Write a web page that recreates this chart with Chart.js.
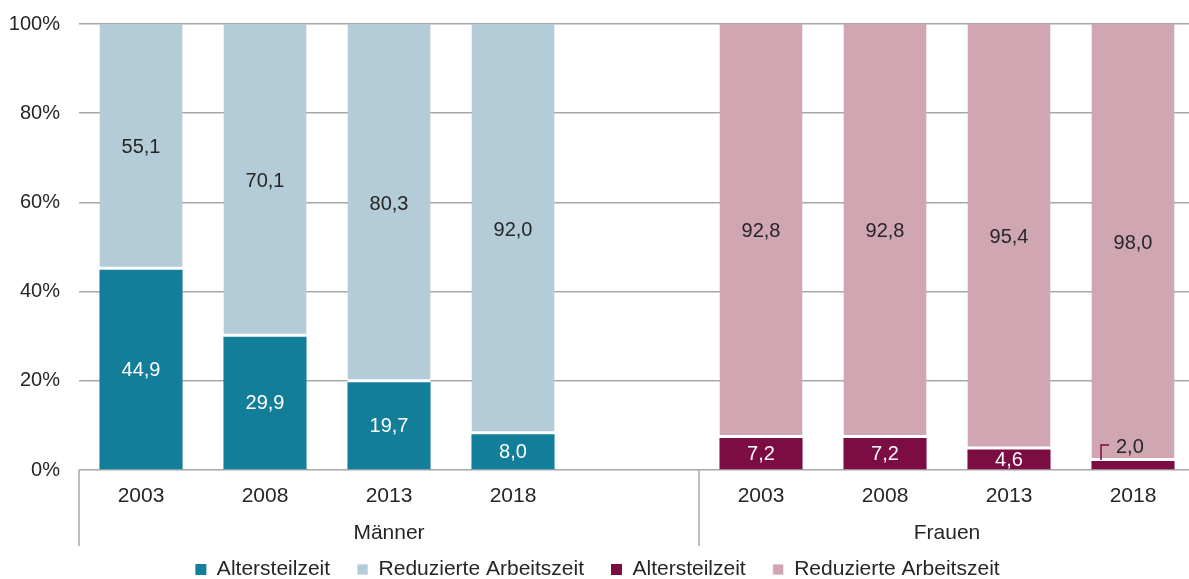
<!DOCTYPE html>
<html>
<head>
<meta charset="utf-8">
<script src="https://cdn.jsdelivr.net/npm/chart.js@4.4.1/dist/chart.umd.min.js"></script>
<style>
  body { margin: 0; overflow: hidden; background: #fff; }
  #wrap { width: 1196px; height: 579px; }
</style>
</head>
<body>
<div id="wrap"><canvas id="chart" width="1196" height="579"></canvas></div>
<script>
// categories (empty slot in the middle separates the two groups)
const years = ["2003", "2008", "2013", "2018", "", "2003", "2008", "2013", "2018"];
const groups = [
  { name: "Männer", from: 0, to: 4 },
  { name: "Frauen", from: 5, to: 8 }
];
const menAltersteilzeit = [44.9, 29.9, 19.7, 8.0, null, null, null, null, null];
const menReduziert = [55.1, 70.1, 80.3, 92.0, null, null, null, null, null];
const womenAltersteilzeit = [null, null, null, null, null, 7.2, 7.2, 4.6, 2.0];
const womenReduziert = [null, null, null, null, null, 92.8, 92.8, 95.4, 98.0];
const yTicks = [0, 20, 40, 60, 80, 100];

const textColor = "#262626";
const gridColor = "#a8a8a8";
const fontFamily = "'Liberation Sans', Arial, sans-serif";

const fmt = (v) => v.toFixed(1).replace(".", ",");

// labels inside the bar segments
const barLabels = {
  id: "barLabels",
  afterDatasetsDraw(chart) {
    const ctx = chart.ctx;
    ctx.save();
    ctx.font = "20px " + fontFamily;
    ctx.textBaseline = "middle";
    chart.data.datasets.forEach((ds, di) => {
      const meta = chart.getDatasetMeta(di);
      meta.data.forEach((bar, i) => {
        const v = ds.data[i];
        if (v == null) return;
        const mid = (bar.y + bar.base) / 2;
        if (v < 3) {
          // small value: label above with a leader line
          ctx.strokeStyle = ds.backgroundColor;
          ctx.lineWidth = 1.5;
          ctx.beginPath();
          ctx.moveTo(bar.x - 32, bar.y - 1);
          ctx.lineTo(bar.x - 32, bar.y - 16);
          ctx.lineTo(bar.x - 24, bar.y - 16);
          ctx.stroke();
          ctx.fillStyle = textColor;
          ctx.textAlign = "left";
          ctx.fillText(fmt(v), bar.x - 17, bar.y - 14);
          return;
        }
        ctx.fillStyle = ds.labelColor;
        ctx.textAlign = "center";
        ctx.fillText(fmt(v), bar.x, mid + 1);
      });
    });
    ctx.restore();
  }
};

// group labels and separators under the x axis
const groupAxis = {
  id: "groupAxis",
  afterDraw(chart) {
    const ctx = chart.ctx;
    const x = chart.scales.x;
    const half = (x.getPixelForValue(1) - x.getPixelForValue(0)) / 2;
    const top = chart.chartArea.bottom;
    ctx.save();
    ctx.strokeStyle = gridColor;
    ctx.lineWidth = 1.5;
    ctx.font = "21px " + fontFamily;
    ctx.fillStyle = textColor;
    ctx.textAlign = "center";
    ctx.textBaseline = "middle";
    const edges = [x.getPixelForValue(0) - half, x.getPixelForValue(4) + half, x.getPixelForValue(8) + half];
    edges.forEach((ex) => {
      ctx.beginPath();
      ctx.moveTo(ex, top);
      ctx.lineTo(ex, top + 76);
      ctx.stroke();
    });
    groups.forEach((g) => {
      const cx = (x.getPixelForValue(g.from) - half + x.getPixelForValue(g.to) + half) / 2;
      ctx.fillText(g.name, cx, top + 63);
    });
    ctx.restore();
  }
};

const ctx = document.getElementById("chart").getContext("2d");
new Chart(ctx, {
  type: "bar",
  data: {
    labels: years,
    datasets: [
      {
        label: "Altersteilzeit",
        data: menAltersteilzeit,
        backgroundColor: "#127e99",
        labelColor: "#ffffff"
      },
      {
        label: "Reduzierte Arbeitszeit",
        data: menReduziert,
        backgroundColor: "#b4ccd8",
        borderColor: "#ffffff",
        borderWidth: { top: 0, left: 0, right: 0, bottom: 3 },
        borderSkipped: false,
        labelColor: textColor
      },
      {
        label: "Altersteilzeit",
        data: womenAltersteilzeit,
        backgroundColor: "#7c0d43",
        labelColor: "#ffffff"
      },
      {
        label: "Reduzierte Arbeitszeit",
        data: womenReduziert,
        backgroundColor: "#cfa6b1",
        borderColor: "#ffffff",
        borderWidth: { top: 0, left: 0, right: 0, bottom: 3 },
        borderSkipped: false,
        labelColor: textColor
      }
    ]
  },
  options: {
    responsive: false,
    animation: false,
    devicePixelRatio: 1,
    layout: { padding: { top: 24, right: 1, left: 0, bottom: -11 } },
    datasets: {
      bar: { categoryPercentage: 1, barPercentage: 0.67 }
    },
    scales: {
      x: {
        stacked: true,
        grid: { display: false, drawTicks: false },
        border: { display: false },
        ticks: {
          color: textColor,
          font: { family: fontFamily, size: 21 },
          padding: 14,
          maxRotation: 0,
          autoSkip: false
        },
        afterFit(scale) { scale.height = 62; }
      },
      y: {
        stacked: true,
        min: 0,
        max: 100,
        afterBuildTicks(scale) { scale.ticks = yTicks.map((v) => ({ value: v })); },
        grid: { color: gridColor, lineWidth: 1.5, drawTicks: false },
        border: { display: false },
        ticks: {
          color: textColor,
          font: { family: fontFamily, size: 20 },
          padding: 19,
          callback: (v) => v + "%"
        },
        afterFit(scale) {
          scale.width = 79;
          scale.paddingTop = 0;
          scale.paddingBottom = 0;
        }
      }
    },
    plugins: {
      legend: {
        position: "bottom",
        labels: {
          color: textColor,
          font: { family: fontFamily, size: 21 },
          boxWidth: 11,
          boxHeight: 11,
          padding: 27
        }
      },
      tooltip: { enabled: false }
    }
  },
  plugins: [barLabels, groupAxis]
});
</script>
</body>
</html>
